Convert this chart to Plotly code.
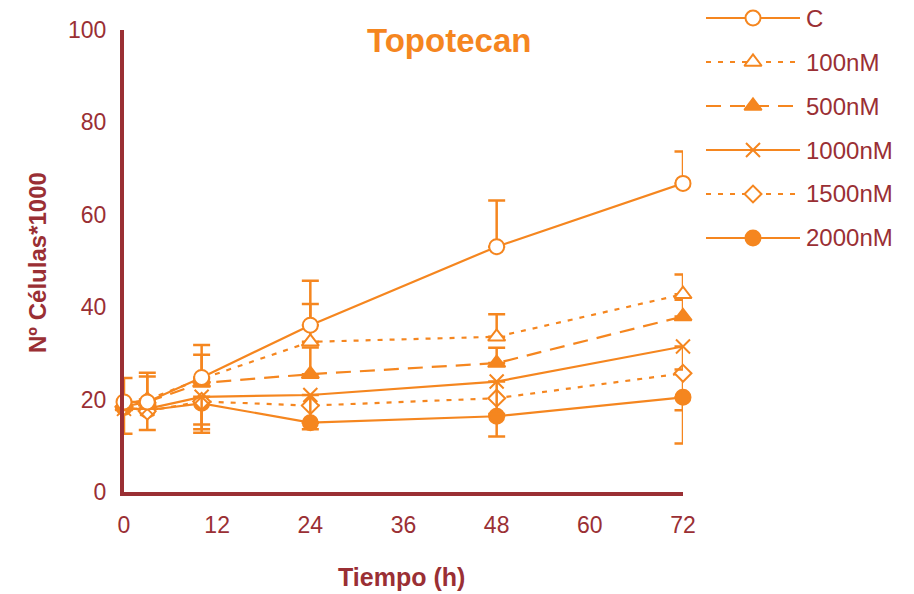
import plotly.graph_objects as go

# ---------------- data ----------------
time_h = [0, 3, 10, 24, 48, 72]
series_names = ["C", "100nM", "500nM", "1000nM", "1500nM", "2000nM"]

c_vals      = [19.5, 19.5, 24.8, 36.1, 53.1, 66.8]
nm100_vals  = [19.0, 20.0, 24.5, 32.5, 33.6, 42.8]
nm500_vals  = [18.5, 19.5, 23.6, 25.5, 27.9, 38.0]
nm1000_vals = [18.0, 18.0, 20.6, 21.0, 23.9, 31.5]
nm1500_vals = [18.5, 17.5, 19.6, 18.7, 20.3, 25.7]
nm2000_vals = [18.3, 17.7, 19.2, 15.0, 16.4, 20.5]

c_err_plus      = [5.2, 6.3, 7.0, 9.6, 10.0, 6.9]
c_err_minus     = [0, 0, 0, 0, 0, 0]
nm100_err_plus  = [0, 5.0, 5.2, 8.2, 4.9, 4.3]
nm100_err_minus = [0, 0, 0, 0, 0, 0]
nm500_err_plus  = [0, 0, 0, 5.8, 3.3, 3.6]
nm500_err_minus = [0, 0, 0, 0, 0, 0]
nm1000_err_plus  = [0, 0, 0, 0, 0, 0]
nm1000_err_minus = [0, 0, 6.0, 6.0, 7.0, 5.0]
nm1500_err_plus  = [0, 0, 0, 0, 0, 0]
nm1500_err_minus = [0, 0, 6.0, 0, 0, 8.0]
nm2000_err_plus  = [0, 0, 0, 0, 0, 0]
nm2000_err_minus = [5.7, 4.3, 6.4, 1.4, 4.4, 10.0]

x_ticks = [0, 12, 24, 36, 48, 60, 72]
y_ticks = [0, 20, 40, 60, 80, 100]

# ---------------- style ----------------
ORANGE = "#F5861F"
DARK = "#9A2F34"
FONT = "Liberation Sans, Arial, sans-serif"

styles = {
    "C":      dict(symbol="circle", fill="white", dash="solid", size=15),
    "100nM":  dict(symbol="triangle-up", fill="white", dash="5px,7px", size=15),
    "500nM":  dict(symbol="triangle-up", fill=ORANGE, dash="15px,9px", size=15),
    "1000nM": dict(symbol="x-thin", fill=ORANGE, dash="solid", size=14),
    "1500nM": dict(symbol="diamond", fill="white", dash="5px,7px", size=13),
    "2000nM": dict(symbol="circle", fill=ORANGE, dash="solid", size=15),
}

data = {
    "C": (c_vals, c_err_plus, c_err_minus),
    "100nM": (nm100_vals, nm100_err_plus, nm100_err_minus),
    "500nM": (nm500_vals, nm500_err_plus, nm500_err_minus),
    "1000nM": (nm1000_vals, nm1000_err_plus, nm1000_err_minus),
    "1500nM": (nm1500_vals, nm1500_err_plus, nm1500_err_minus),
    "2000nM": (nm2000_vals, nm2000_err_plus, nm2000_err_minus),
}

fig = go.Figure()

# draw so that C ends up on top
for name in reversed(series_names):
    vals, ep, em = data[name]
    st = styles[name]
    fig.add_trace(go.Scatter(
        x=time_h, y=vals, mode="lines+markers", name=name,
        line=dict(color=ORANGE, width=2.2, dash=st["dash"]),
        marker=dict(symbol=st["symbol"], size=st["size"], color=st["fill"],
                    line=dict(color=ORANGE, width=2)),
        error_y=dict(type="data", symmetric=False, array=ep, arrayminus=em,
                     color=ORANGE, thickness=2.5, width=8.5),
        cliponaxis=False, showlegend=False,
        xaxis="x", yaxis="y",
    ))

# custom legend drawn on its own small axes
legend_rows = list(range(len(series_names)))
for row, name in zip(legend_rows, series_names):
    st = styles[name]
    fig.add_trace(go.Scatter(
        x=[0, 1, 2], y=[row, row, row], mode="lines+markers",
        line=dict(color=ORANGE, width=2.2, dash=st["dash"]),
        marker=dict(symbol=st["symbol"], size=st["size"],
                    color=st["fill"], line=dict(color=ORANGE, width=2),
                    opacity=[0, 1, 0]),
        showlegend=False, hoverinfo="skip", cliponaxis=False,
        xaxis="x2", yaxis="y2",
    ))
    fig.add_annotation(x=2, y=row, xref="x2", yref="y2", text=name,
                       showarrow=False, xanchor="left", yanchor="middle", xshift=4,
                       font=dict(family=FONT, size=24, color=DARK))

W, H = 914, 594
ML, MR, MT, MB = 124, 10, 10, 102
PW = W - ML - MR
PH = H - MT - MB

x_dom_end = (683 - ML) / PW
y_dom_end = (492 - 30) / PH

fig.update_layout(
    width=W, height=H,
    margin=dict(l=ML, r=MR, t=MT, b=MB, pad=0, autoexpand=False),
    paper_bgcolor="white", plot_bgcolor="white",
    font=dict(family=FONT, color=DARK, size=21),
    xaxis=dict(domain=[0, x_dom_end], range=[0, 72], tickvals=x_ticks,
               showline=True, linecolor=DARK, linewidth=4, showgrid=False,
               zeroline=False, ticks="", ticklabelstandoff=9, automargin=False,
               tickfont=dict(family=FONT, size=23, color=DARK)),
    yaxis=dict(domain=[0, y_dom_end], range=[0, 100], tickvals=y_ticks,
               showline=True, linecolor=DARK, linewidth=4, showgrid=False,
               zeroline=False, ticks="", ticklabelstandoff=9, automargin=False,
               tickfont=dict(family=FONT, size=23, color=DARK)),
    xaxis2=dict(domain=[(706 - ML) / PW, (800 - ML) / PW], range=[0, 2],
                visible=False, anchor="y2", automargin=False),
    yaxis2=dict(domain=[(492 - 250) / PH, 1.0], range=[5.273, -0.182],
                visible=False, anchor="x2", automargin=False),
)

# title and axis titles
fig.add_annotation(x=(449 - ML) / PW, y=(492 - 40) / PH, xref="paper", yref="paper",
                   text="<b>Topotecan</b>", showarrow=False,
                   xanchor="center", yanchor="middle",
                   font=dict(family=FONT, size=33, color=ORANGE))
fig.add_annotation(x=(401 - ML) / PW, y=(492 - 577) / PH, xref="paper", yref="paper",
                   text="<b>Tiempo (h)</b>", showarrow=False,
                   xanchor="center", yanchor="middle",
                   font=dict(family=FONT, size=25, color=DARK))
fig.add_annotation(x=(37 - ML) / PW, y=(492 - 263) / PH, xref="paper", yref="paper",
                   text="<b>Nº Células*1000</b>", showarrow=False, textangle=-90,
                   xanchor="center", yanchor="middle",
                   font=dict(family=FONT, size=24, color=DARK))

fig.write_html("out.html")
